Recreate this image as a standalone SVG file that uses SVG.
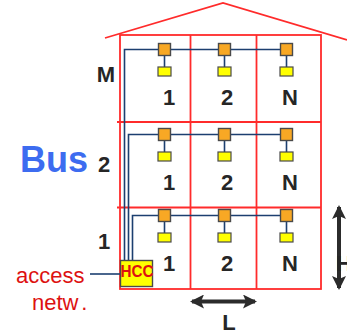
<svg xmlns="http://www.w3.org/2000/svg" width="347" height="333" viewBox="0 0 347 333">
<style>
.wall{fill:none;stroke:#ff2b2b;stroke-width:1.8}
.bus{fill:none;stroke:#1c3f70;stroke-width:1.6}
.term{fill:#f8a824;stroke:#4a4a4a;stroke-width:1.4}
.dev{fill:#ffff00;stroke:#4a4a4a;stroke-width:1.2}
.num{font-family:"Liberation Sans",Arial,sans-serif;font-weight:bold;font-size:22px;fill:#262626;text-anchor:middle}
.red{font-family:"Liberation Sans",Arial,sans-serif;fill:#dd1111}
.dim{stroke:#2b2b2b;stroke-width:4;fill:none}
</style>
<defs>
<marker id="ah" viewBox="0 0 14 14" refX="12" refY="7" markerWidth="14" markerHeight="14" markerUnits="userSpaceOnUse" orient="auto-start-reverse">
<path d="M0,0 L14,7 L0,14 L3,7 z" fill="#2b2b2b"/>
</marker>
</defs>
<rect width="347" height="333" fill="#ffffff"/>
<g id="building">
<polyline class="wall" points="105,38 223,3 347,40"/>
<rect class="wall" x="120" y="35" width="201" height="254"/>
<line class="wall" x1="117" y1="122" x2="321" y2="122"/>
<line class="wall" x1="117" y1="207.5" x2="321" y2="207.5"/>
<line class="wall" x1="190.5" y1="35" x2="190.5" y2="289"/>
<line class="wall" x1="256.5" y1="35" x2="256.5" y2="289"/>
</g>
<g id="connectors">
<path class="bus" d="M124.5,260 V49.5 H287"/>
<path class="bus" d="M128.5,260 V134.5 H287"/>
<path class="bus" d="M132.5,260 V215.5 H287"/>
<line class="bus" x1="90" y1="274" x2="120" y2="274"/>
<g stroke="#1c3f70" stroke-width="1.6">
<line x1="164.5" y1="55" x2="164.5" y2="67"/>
<line x1="224.5" y1="55" x2="224.5" y2="67"/>
<line x1="286.5" y1="55" x2="286.5" y2="67"/>
<line x1="164.5" y1="140" x2="164.5" y2="152"/>
<line x1="224.5" y1="140" x2="224.5" y2="152"/>
<line x1="286.5" y1="140" x2="286.5" y2="152"/>
<line x1="164.5" y1="221" x2="164.5" y2="233"/>
<line x1="224.5" y1="221" x2="224.5" y2="233"/>
<line x1="286.5" y1="221" x2="286.5" y2="233"/>
</g>
</g>
<g id="floor-M">
<rect class="term" x="158.5" y="43.5" width="12" height="12"/>
<rect class="term" x="218.5" y="43.5" width="12" height="12"/>
<rect class="term" x="280.5" y="43.5" width="12" height="12"/>
<rect class="dev" x="158" y="67" width="13" height="9"/>
<rect class="dev" x="218" y="67" width="13" height="9"/>
<rect class="dev" x="280" y="67" width="13" height="9"/>
<text class="num" x="169" y="105">1</text>
<text class="num" x="227" y="105">2</text>
<text class="num" x="290" y="105">N</text>
<text class="num" x="106" y="82">M</text>
</g>
<g id="floor-2">
<rect class="term" x="158.5" y="128.5" width="12" height="12"/>
<rect class="term" x="218.5" y="128.5" width="12" height="12"/>
<rect class="term" x="280.5" y="128.5" width="12" height="12"/>
<rect class="dev" x="158" y="152" width="13" height="9"/>
<rect class="dev" x="218" y="152" width="13" height="9"/>
<rect class="dev" x="280" y="152" width="13" height="9"/>
<text class="num" x="169" y="190">1</text>
<text class="num" x="227" y="190">2</text>
<text class="num" x="290" y="190">N</text>
<text class="num" x="104" y="172">2</text>
</g>
<g id="floor-1">
<rect class="term" x="158.5" y="209.5" width="12" height="12"/>
<rect class="term" x="218.5" y="209.5" width="12" height="12"/>
<rect class="term" x="280.5" y="209.5" width="12" height="12"/>
<rect class="dev" x="158" y="233" width="13" height="9"/>
<rect class="dev" x="218" y="233" width="13" height="9"/>
<rect class="dev" x="280" y="233" width="13" height="9"/>
<text class="num" x="169" y="271">1</text>
<text class="num" x="227" y="271">2</text>
<text class="num" x="290" y="271">N</text>
<text class="num" x="104" y="249">1</text>
</g>
<g id="hcc">
<rect x="120.5" y="260.5" width="32" height="26" fill="#ffff00" stroke="#4a4a4a" stroke-width="1.4"/>
<text class="red" x="120.5" y="277" font-size="16" font-weight="bold" textLength="33" lengthAdjust="spacingAndGlyphs">HCC</text>
</g>
<g id="labels">
<text x="20" y="172" font-family="'Liberation Sans',Arial,sans-serif" font-weight="bold" font-size="36" fill="#3d6cf0">Bus</text>
<text class="red" x="16" y="283" font-size="22">access</text>
<text class="red" x="32" y="310" font-size="22">netw<tspan dx="4">.</tspan></text>
</g>
<g id="dimensions">
<line class="dim" x1="192" y1="301.5" x2="255" y2="301.5" marker-start="url(#ah)" marker-end="url(#ah)"/>
<text class="num" x="229" y="330">L</text>
<line class="dim" x1="339" y1="207" x2="339" y2="288" marker-start="url(#ah)" marker-end="url(#ah)"/>
<text class="num" x="344" y="271" text-anchor="start">H</text>
</g>
</svg>
